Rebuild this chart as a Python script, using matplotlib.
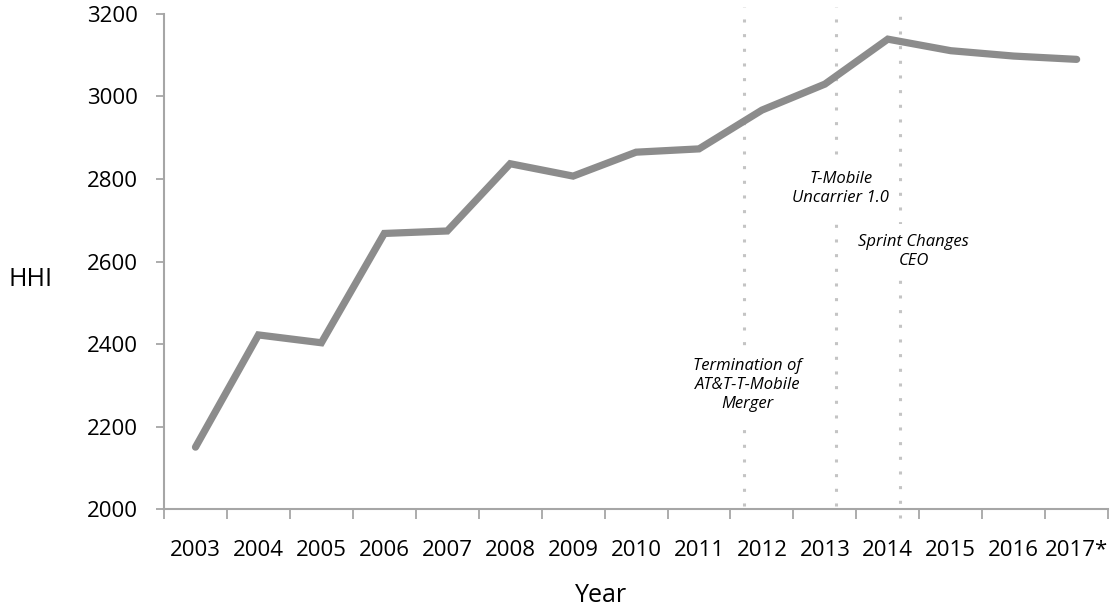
import numpy as np
import matplotlib.pyplot as plt

plt.rcParams['font.family'] = ['Open Sans', 'DejaVu Sans']

# HHI by year
years = ["2003", "2004", "2005", "2006", "2007", "2008", "2009", "2010",
         "2011", "2012", "2013", "2014", "2015", "2016", "2017*"]
hhi = [2150, 2422, 2403, 2668, 2674, 2837, 2807, 2865,
       2873, 2967, 3030, 3139, 3111, 3098, 3090]

# event markers (category index positions) and their notes
event_x = [8.72, 10.18, 11.2]
event_bottom = [2008, 2008, 1978]
event_text = ["Termination of\nAT&T-T-Mobile\nMerger",
              "T-Mobile\nUncarrier 1.0",
              "Sprint Changes\nCEO"]
event_text_x = [8.77, 10.25, 11.41]
event_text_y = [2300, 2778, 2624]

fig = plt.figure(figsize=(11.12, 6.08), dpi=100)
ax = fig.add_axes([0.1475, 0.1628, 0.849, 0.8142])

x = np.arange(len(years))
axis_grey = "#a6a6a6"

# dotted event lines, drawn past the plot edges like the original
for ex, eb in zip(event_x, event_bottom):
    ax.plot([ex, ex], [eb, 3218], color="#c4c4c4", lw=2.2,
            linestyle=(0, (1, 3.8)), clip_on=False, zorder=1)

for tx, ty, t in zip(event_text_x, event_text_y, event_text):
    ax.text(tx, ty, t, ha="center", va="center", fontsize=12, style="italic",
            linespacing=1.25, zorder=2,
            bbox=dict(facecolor="white", edgecolor="none", pad=7))

ax.plot(x, hhi, color="#8c8c8c", lw=5.2, solid_capstyle="round",
        solid_joinstyle="miter", zorder=3)

ax.set_xlim(-0.5, len(years) - 0.5)
ax.set_ylim(2000, 3200)
ax.set_yticks(np.arange(2000, 3201, 200))

# ticks between categories, labels at the centres
ax.set_xticks(np.arange(-0.5, len(years), 1))
ax.set_xticklabels([])
ax.set_xticks(x, minor=True)
ax.set_xticklabels(years, minor=True)
ax.tick_params(axis="x", which="major", length=7, width=1.3, color=axis_grey)
ax.tick_params(axis="x", which="minor", length=0, pad=22, labelsize=16)
ax.tick_params(axis="y", length=6, width=1.3, color=axis_grey, pad=13,
               labelsize=16)

for s in ["top", "right"]:
    ax.spines[s].set_visible(False)
for s in ["left", "bottom"]:
    ax.spines[s].set_color(axis_grey)
    ax.spines[s].set_linewidth(1.5)

fig.text(31 / 1112, 1 - 280 / 608, "HHI", ha="center", va="center", fontsize=18)
fig.text(601 / 1112, 1 - 596 / 608, "Year", ha="center", va="center", fontsize=18)

plt.savefig("out.png", dpi=100)
